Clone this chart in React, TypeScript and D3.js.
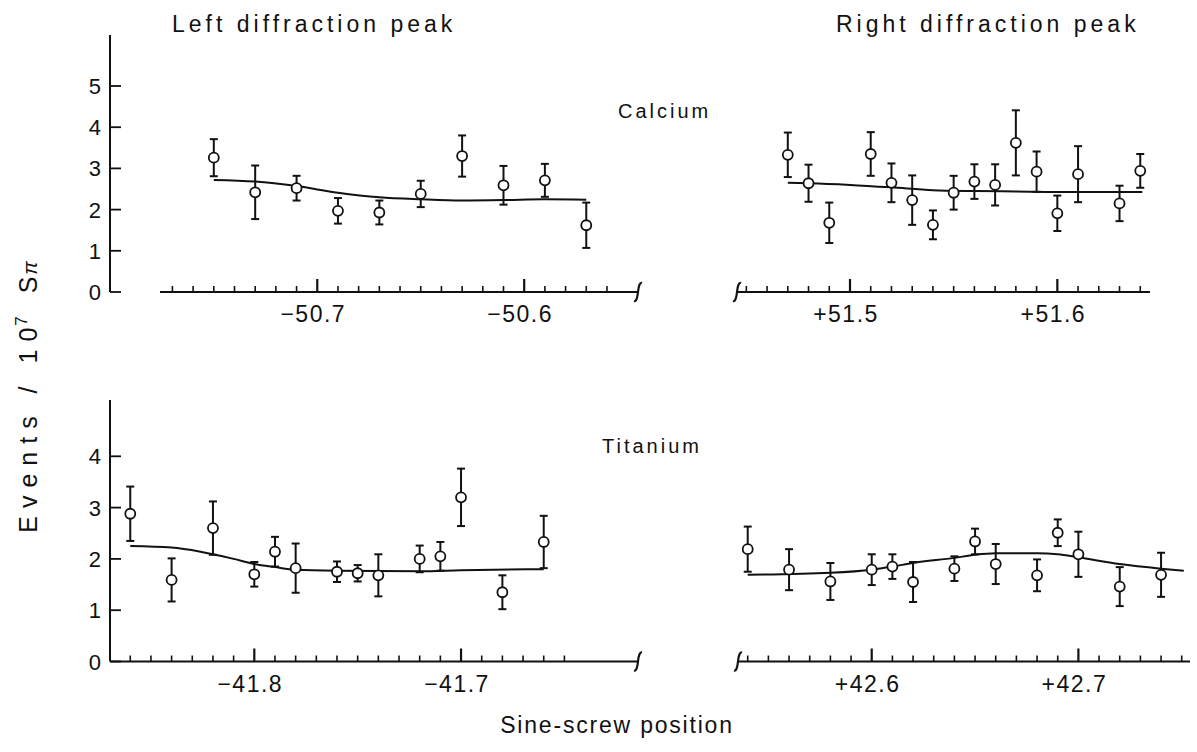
import React from "react";
import * as d3 from "d3";

// Calcium, left diffraction peak
const caLeftPos = [-50.75, -50.73, -50.71, -50.69, -50.67, -50.65, -50.63, -50.61, -50.59, -50.57];
const caLeftEvents = [3.26, 2.42, 2.52, 1.97, 1.93, 2.38, 3.3, 2.59, 2.71, 1.62];
const caLeftErr = [0.45, 0.65, 0.3, 0.31, 0.29, 0.32, 0.5, 0.47, 0.4, 0.55];
const caLeftFit: [number, number][] = [
  [-50.75, 2.72], [-50.73, 2.68], [-50.71, 2.57], [-50.69, 2.41], [-50.67, 2.3],
  [-50.65, 2.25], [-50.63, 2.22], [-50.61, 2.23], [-50.59, 2.25], [-50.57, 2.24],
];

// Calcium, right diffraction peak
const caRightPos = [51.47, 51.48, 51.49, 51.51, 51.52, 51.53, 51.54, 51.55, 51.56, 51.57, 51.58, 51.59, 51.6, 51.61, 51.63, 51.64];
const caRightEvents = [3.33, 2.64, 1.68, 3.35, 2.65, 2.23, 1.63, 2.41, 2.68, 2.6, 3.62, 2.92, 1.91, 2.86, 2.15, 2.94];
const caRightErr = [0.54, 0.45, 0.49, 0.53, 0.47, 0.6, 0.35, 0.41, 0.42, 0.5, 0.79, 0.49, 0.43, 0.68, 0.43, 0.41];
const caRightFit: [number, number][] = [
  [51.47, 2.65], [51.48, 2.64], [51.5, 2.6], [51.52, 2.54], [51.54, 2.47],
  [51.56, 2.45], [51.58, 2.44], [51.6, 2.43], [51.62, 2.43], [51.641, 2.43],
];

// Titanium, left diffraction peak
const tiLeftPos = [-41.86, -41.84, -41.82, -41.8, -41.79, -41.78, -41.76, -41.75, -41.74, -41.72, -41.71, -41.7, -41.68, -41.66];
const tiLeftEvents = [2.88, 1.59, 2.6, 1.7, 2.14, 1.82, 1.75, 1.72, 1.68, 2.0, 2.05, 3.2, 1.35, 2.33];
const tiLeftErr = [0.53, 0.42, 0.52, 0.24, 0.29, 0.48, 0.2, 0.16, 0.41, 0.26, 0.28, 0.56, 0.33, 0.51];
const tiLeftFit: [number, number][] = [
  [-41.86, 2.25], [-41.84, 2.22], [-41.826, 2.14], [-41.81, 2.0], [-41.8, 1.9],
  [-41.79, 1.84], [-41.78, 1.79], [-41.76, 1.77], [-41.72, 1.76], [-41.7, 1.78], [-41.66, 1.8],
];

// Titanium, right diffraction peak
const tiRightPos = [42.54, 42.56, 42.58, 42.6, 42.61, 42.62, 42.64, 42.65, 42.66, 42.68, 42.69, 42.7, 42.72, 42.74];
const tiRightEvents = [2.19, 1.79, 1.56, 1.79, 1.85, 1.55, 1.81, 2.34, 1.9, 1.68, 2.51, 2.09, 1.46, 1.69];
const tiRightErr = [0.44, 0.4, 0.36, 0.3, 0.24, 0.39, 0.24, 0.25, 0.39, 0.31, 0.26, 0.44, 0.38, 0.43];
const tiRightFit: [number, number][] = [
  [42.54, 1.69], [42.58, 1.73], [42.6, 1.79], [42.61, 1.85], [42.62, 1.92], [42.64, 2.02],
  [42.65, 2.08], [42.66, 2.11], [42.68, 2.11], [42.69, 2.09], [42.7, 2.03], [42.72, 1.9],
  [42.74, 1.81], [42.751, 1.77],
];

// Axis labelling
const caLeftMajor = [-50.7, -50.6];
const caRightMajor = [51.5, 51.6];
const tiLeftMajor = [-41.8, -41.7];
const tiRightMajor = [42.6, 42.7];
const caYTicks = [0, 1, 2, 3, 4, 5];
const tiYTicks = [0, 1, 2, 3, 4];

const FONT = "'Liberation Sans', Arial, sans-serif";
const INK = "#111";

function fmtPos(v: number) {
  const s = Math.abs(v).toFixed(1);
  return v < 0 ? "\u2212" + s : "+" + s;
}

type PanelProps = {
  pos: number[];
  events: number[];
  err: number[];
  fit: [number, number][];
  major: number[];
  domain: [number, number];
  range: [number, number];
  tickFrom: number;
  tickTo: number;
  axisY: number;
  yScale: d3.ScaleLinear<number, number>;
  breakLeft: boolean;
  breakRight: boolean;
};

// Small integral-shaped mark where a broken axis ends
function BreakMark({ x, y }: { x: number; y: number }) {
  const d = `M${x - 4},${y + 9} Q${x - 1},${y + 10} ${x},${y} Q${x + 1},${y - 10} ${x + 4},${y - 9}`;
  return <path d={d} fill="none" stroke={INK} strokeWidth={2.2} />;
}

function Panel(p: PanelProps) {
  const x = d3.scaleLinear().domain(p.domain).range(p.range);
  const y = p.yScale;
  const nTicks = Math.round((p.tickTo - p.tickFrom) * 100);
  const ticks = d3.range(nTicks + 1).map((i) => +(p.tickFrom + i * 0.01).toFixed(2));
  const isMajor = (t: number) => p.major.some((m) => Math.abs(m - t) < 1e-6);
  const line = d3
    .line<[number, number]>()
    .x((d) => x(d[0]))
    .y((d) => y(d[1]))
    .curve(d3.curveMonotoneX);
  return (
    <g>
      <line x1={p.range[0]} x2={p.range[1]} y1={p.axisY} y2={p.axisY} stroke={INK} strokeWidth={2} />
      {ticks.map((t, i) => {
        const h = isMajor(t) ? 13 : 6;
        return (
          <line key={i} x1={x(t)} x2={x(t)} y1={p.axisY} y2={p.axisY - h} stroke={INK} strokeWidth={isMajor(t) ? 2.2 : 1.6} />
        );
      })}
      {p.major.map((m) => (
        <text
          key={m}
          x={x(m) - 4}
          y={p.axisY + 30}
          textAnchor="middle"
          fontFamily={FONT}
          fontSize={23}
          letterSpacing={1.5}
          fill={INK}
        >
          {fmtPos(m)}
        </text>
      ))}
      {p.breakLeft && <BreakMark x={p.range[0]} y={p.axisY} />}
      {p.breakRight && <BreakMark x={p.range[1]} y={p.axisY} />}
      <path d={line(p.fit) || ""} fill="none" stroke={INK} strokeWidth={2} />
      {p.pos.map((v, i) => {
        const cx = x(v);
        const yt = y(p.events[i] + p.err[i]);
        const yb = y(p.events[i] - p.err[i]);
        return (
          <g key={i}>
            <line x1={cx} x2={cx} y1={yt} y2={yb} stroke={INK} strokeWidth={2} />
            <line x1={cx - 4} x2={cx + 4} y1={yt} y2={yt} stroke={INK} strokeWidth={2} />
            <line x1={cx - 4} x2={cx + 4} y1={yb} y2={yb} stroke={INK} strokeWidth={2} />
            <circle cx={cx} cy={y(p.events[i])} r={5} fill="#fff" stroke={INK} strokeWidth={1.8} />
          </g>
        );
      })}
    </g>
  );
}

function YAxis({ scale, ticks, top, x }: { scale: d3.ScaleLinear<number, number>; ticks: number[]; top: number; x: number }) {
  return (
    <g>
      <line x1={x} x2={x} y1={top} y2={scale(0)} stroke={INK} strokeWidth={2} />
      {ticks.map((t) => (
        <g key={t}>
          <line x1={x} x2={x + 11} y1={scale(t)} y2={scale(t)} stroke={INK} strokeWidth={1.8} />
          <text x={x - 9} y={scale(t) + 8} textAnchor="end" fontFamily={FONT} fontSize={22} fill={INK}>
            {t}
          </text>
        </g>
      ))}
    </g>
  );
}

export default function App() {
  const W = 1197;
  const H = 752;
  const caY = d3.scaleLinear().domain([0, 5]).range([292, 86]);
  const tiY = d3.scaleLinear().domain([0, 4]).range([661.5, 456.3]);
  const labelStyle = { fontFamily: FONT, fill: INK } as const;
  return (
    <svg width={W} height={H} style={{ display: "block", position: "absolute", left: 0, top: 0, background: "#fff" }}>
      <rect width={W} height={H} fill="#fff" />
      <text x={172} y={32} fontSize={23} letterSpacing={4} {...labelStyle}>
        Left diffraction peak
      </text>
      <text x={836} y={32} fontSize={23} letterSpacing={4} {...labelStyle}>
        Right diffraction peak
      </text>
      <text x={618} y={118} fontSize={20} letterSpacing={3} {...labelStyle}>
        Calcium
      </text>
      <text x={602} y={453} fontSize={20} letterSpacing={3} {...labelStyle}>
        Titanium
      </text>
      <text x={617} y={733} textAnchor="middle" fontSize={23} letterSpacing={1.8} {...labelStyle}>
        Sine-screw position
      </text>
      <text
        transform="translate(37,393) rotate(-90)"
        textAnchor="middle"
        fontSize={25}
        letterSpacing={8}
        {...labelStyle}
      >
        Events / 10
        <tspan dx={-6} dy={-10} fontSize={17}>7</tspan>
        <tspan dy={10}> S</tspan>
        <tspan dx={-6} fontSize={20} fontStyle="italic">π</tspan>
      </text>

      <YAxis scale={caY} ticks={caYTicks} top={35} x={110} />
      <YAxis scale={tiY} ticks={tiYTicks} top={400} x={110} />

      <Panel
        pos={caLeftPos} events={caLeftEvents} err={caLeftErr} fit={caLeftFit} major={caLeftMajor}
        domain={[-50.776, -50.545]} range={[160, 638]} tickFrom={-50.77} tickTo={-50.56}
        axisY={292} yScale={caY} breakLeft={false} breakRight={true}
      />
      <Panel
        pos={caRightPos} events={caRightEvents} err={caRightErr} fit={caRightFit} major={caRightMajor}
        domain={[51.4455, 51.6447]} range={[737, 1150]} tickFrom={51.45} tickTo={51.64}
        axisY={292} yScale={caY} breakLeft={true} breakRight={false}
      />
      <Panel
        pos={tiLeftPos} events={tiLeftEvents} err={tiLeftErr} fit={tiLeftFit} major={tiLeftMajor}
        domain={[-41.8698, -41.6144]} range={[110, 638]} tickFrom={-41.86} tickTo={-41.65}
        axisY={661.5} yScale={tiY} breakLeft={false} breakRight={true}
      />
      <Panel
        pos={tiRightPos} events={tiRightEvents} err={tiRightErr} fit={tiRightFit} major={tiRightMajor}
        domain={[42.5353, 42.754]} range={[738, 1190]} tickFrom={42.54} tickTo={42.75}
        axisY={661.5} yScale={tiY} breakLeft={true} breakRight={false}
      />
    </svg>
  );
}
